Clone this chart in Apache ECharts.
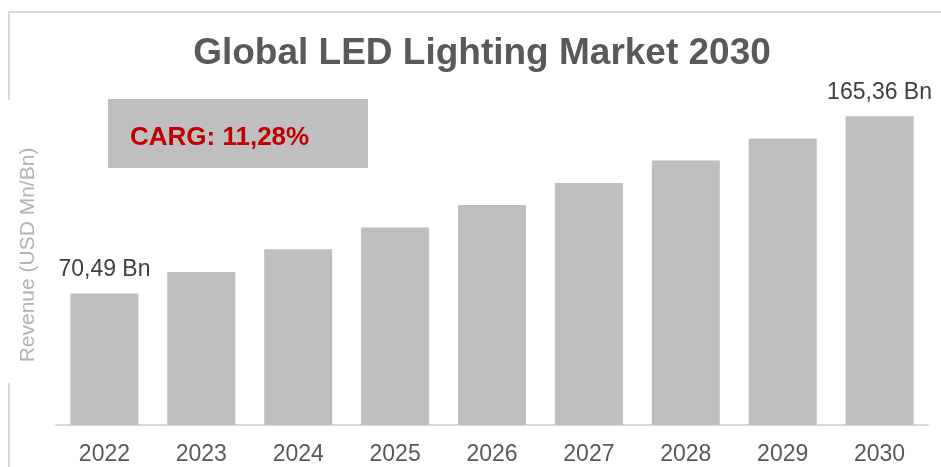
<!DOCTYPE html>
<html>
<head>
<meta charset="utf-8">
<script src="https://cdn.jsdelivr.net/npm/echarts@6/dist/echarts.min.js"></script>
<style>
html,body{margin:0;padding:0;background:#fff;}
#chart{width:941px;height:467px;}
</style>
</head>
<body>
<div id="chart"></div>
<script>
const categories = ['2022','2023','2024','2025','2026','2027','2028','2029','2030'];
const revenue = [70.49, 81.9, 94.1, 105.8, 117.8, 129.7, 141.7, 153.5, 165.36];
const labelledIndex = [0, 8];
const titleText = 'Global LED Lighting Market 2030';
const cagrText = 'CARG: 11,28%';
const yAxisName = 'Revenue (USD Mn/Bn)';

const FONT = '"Liberation Sans", Arial, sans-serif';
const chart = echarts.init(document.getElementById('chart'));

const data = revenue.map((v, i) => ({
  value: v,
  label: { show: labelledIndex.includes(i) }
}));

chart.setOption({
  animation: false,
  backgroundColor: '#ffffff',
  grid: { left: 56, right: 13, top: 89, bottom: 42 },
  xAxis: {
    type: 'category',
    data: categories,
    axisLine: { show: true, lineStyle: { color: '#d9d9d9', width: 2 } },
    axisTick: { show: false },
    axisLabel: { color: '#595959', fontSize: 23, fontFamily: FONT, margin: 18 }
  },
  yAxis: {
    type: 'value',
    min: 0,
    max: 180,
    show: false,
    splitLine: { show: false }
  },
  series: [{
    type: 'bar',
    data: data,
    barWidth: 68,
    itemStyle: { color: '#bfbfbf' },
    label: {
      position: 'top',
      distance: 12,
      color: '#404040',
      fontSize: 23,
      fontFamily: FONT,
      formatter: p => p.value.toFixed(2).replace('.', ',') + ' Bn'
    }
  }],
  graphic: [
    { type: 'line', shape: { x1: 8, y1: 12, x2: 941, y2: 12 }, style: { stroke: '#d9d9d9', lineWidth: 2 } },
    { type: 'line', shape: { x1: 9, y1: 12, x2: 9, y2: 100 }, style: { stroke: '#d9d9d9', lineWidth: 2 } },
    { type: 'line', shape: { x1: 9, y1: 383, x2: 9, y2: 467 }, style: { stroke: '#d9d9d9', lineWidth: 2 } },
    { type: 'text', x: 482, y: 54, style: { text: titleText, fill: '#595959', font: 'bold 37px ' + FONT, textAlign: 'center', textVerticalAlign: 'middle' } },
    { type: 'rect', shape: { x: 108, y: 99, width: 260, height: 69 }, style: { fill: '#bfbfbf' } },
    { type: 'text', x: 130, y: 138, style: { text: cagrText, fill: '#c00000', font: 'bold 26px ' + FONT, textAlign: 'left', textVerticalAlign: 'middle' } },
    { type: 'text', x: 28, y: 255, rotation: Math.PI / 2, style: { text: yAxisName, fill: '#b3b3b3', font: '21px ' + FONT, textAlign: 'center', textVerticalAlign: 'middle' } }
  ]
});
</script>
</body>
</html>
